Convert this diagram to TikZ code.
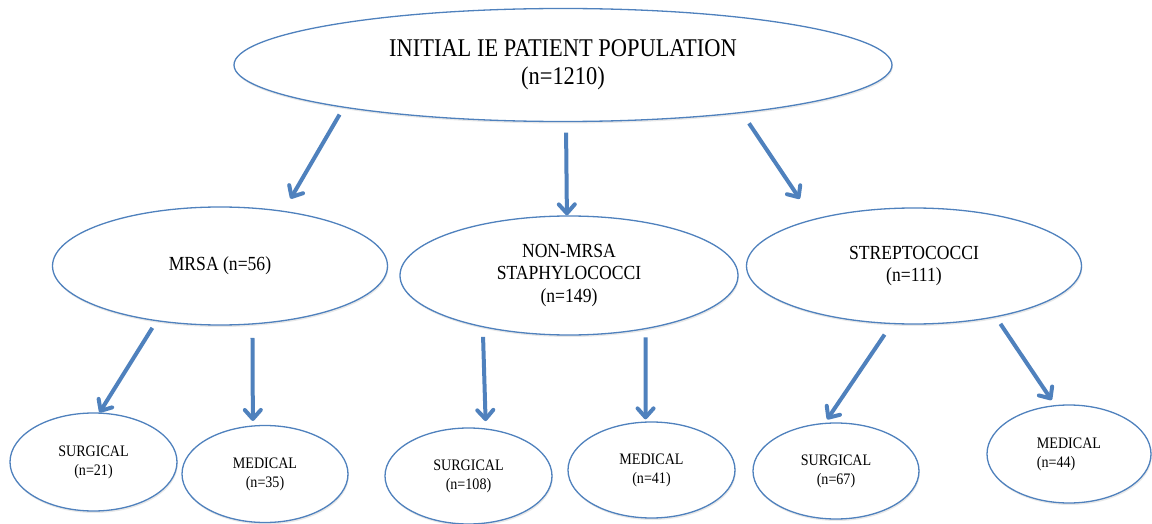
\documentclass[tikz,border=0pt]{standalone}
\usepackage{fontspec}
\setmainfont{Liberation Serif}[FakeStretch=0.88]
\usetikzlibrary{shapes.geometric,arrows.meta,shadows}
\definecolor{ieblue}{RGB}{79,129,189}
\tikzstyle{oval}=[ellipse,draw=ieblue,line width=1.3pt,fill=white,inner sep=0pt,align=center,drop shadow={opacity=0.18,shadow xshift=0.8pt,shadow yshift=-2pt}]
\tikzstyle{root}=[oval,minimum width=658pt,minimum height=113pt,font=\fontsize{25.5}{28.5}\selectfont]
\tikzstyle{group}=[oval,minimum width=335pt,minimum height=118pt,font=\fontsize{20}{22.5}\selectfont]
\tikzstyle{outcome}=[oval,minimum width=166pt,minimum height=97pt,font=\fontsize{16}{19}\selectfont]
\tikzstyle{arr}=[draw=ieblue,line width=4pt,-{Straight Barb[length=9pt,width=16pt,round]}]

\begin{document}
\begin{tikzpicture}[x=1pt,y=-1pt]
			\useasboundingbox (0,0) rectangle (1152,524);
			\node (top) at (563,65) [root] {INITIAL IE PATIENT POPULATION\\(n=1210)};
			\node (mrsa) at (220,266) [group] {MRSA (n=56)};
			\node (nonmrsa) at (569,275.5) [group,minimum width=338pt,minimum height=119pt] {NON-MRSA\\STAPHYLOCOCCI\\(n=149)};
			\node (strep) at (914,266) [group,minimum height=116pt] {STREPTOCOCCI\\(n=111)};
			\node (surg21) at (93.5,462) [outcome,minimum width=167pt,minimum height=98pt] {SURGICAL\\(n=21)};
			\node (med35) at (265,474) [outcome] {MEDICAL\\(n=35)};
			\node (surg108) at (468.5,476) [outcome,minimum width=167pt,minimum height=96pt] {SURGICAL\\(n=108)};
			\node (med41) at (651.5,470) [outcome,minimum width=167pt,minimum height=96pt] {MEDICAL\\(n=41)};
			\node (surg67) at (836,471) [outcome,minimum height=96pt] {SURGICAL\\(n=67)};
			\node (med44) at (1069,454) [outcome,minimum width=164pt,minimum height=98pt,align=left] {MEDICAL\\(n=44)};
			% first split
			\draw[arr,shorten <=8pt,shorten >=14pt] (top.191.6) -- (mrsa.41.1);
			\draw[arr,shorten <=10.5pt] (top.273.04) -- (nonmrsa.92.9);
			\draw[arr,shorten <=12.4pt,shorten >=24.3pt] (top.345.1) -- (strep.155);
			% surgical or medical
			\draw[arr,shorten <=7.8pt] (mrsa.221.9) -- (surg21.83.9);
			\draw[arr,shorten <=13.3pt,shorten >=4.4pt] (mrsa.299.4) -- (med35.104.85);
			\draw[arr,shorten <=9.6pt,shorten >=7.3pt] (nonmrsa.211.6) -- (surg108.70.7);
			\draw[arr,shorten <=8.1pt,shorten >=2.1pt] (nonmrsa.325.1) -- (med41.97.7);
			\draw[arr,shorten <=12.65pt,shorten >=4.1pt] (strep.249.1) -- (surg67.103);
			\draw[arr,shorten <=8pt,shorten >=6pt] (strep.328.2) -- (med44.106.2);
		\end{tikzpicture}
\end{document}
